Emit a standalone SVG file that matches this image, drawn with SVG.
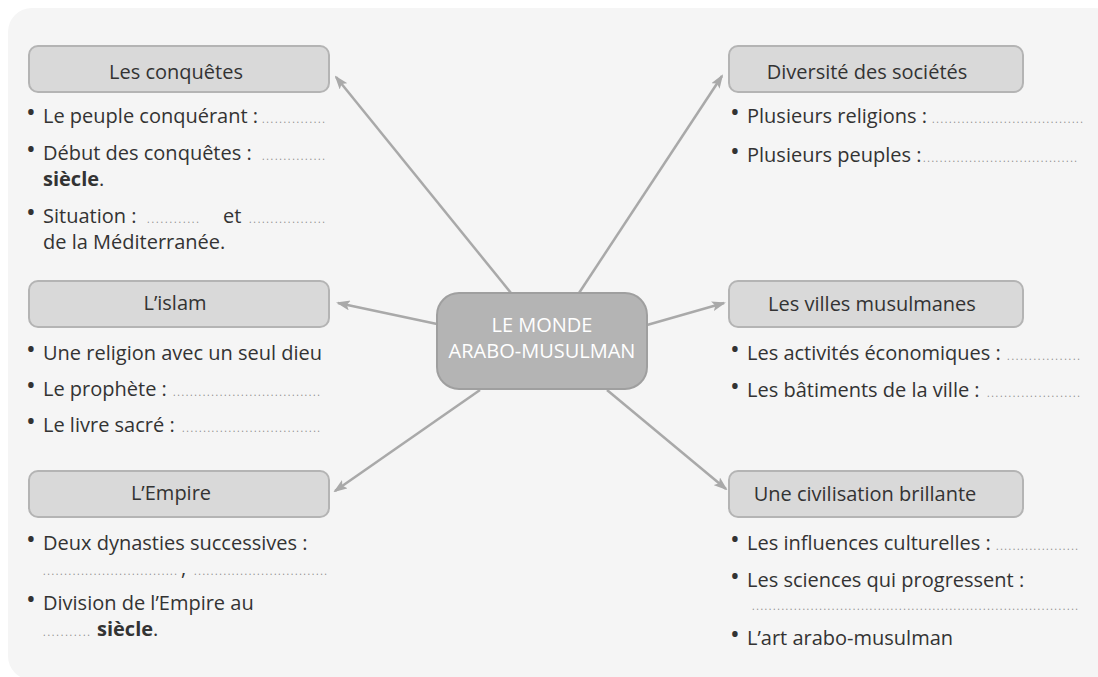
<svg xmlns="http://www.w3.org/2000/svg" width="1098" height="677" viewBox="0 0 1098 677">
<defs>
<marker id="ah" viewBox="0 0 14 10" markerWidth="14" markerHeight="10" refX="12" refY="5" orient="auto" markerUnits="userSpaceOnUse">
<path d="M0,0 L14,5 L0,10 L3,5 Z" fill="#a9a9a9"/>
</marker>
<style>
text{font-family:"Open Sans","Noto Sans","DejaVu Sans",sans-serif;}
.hd{font-size:20px;fill:#333333;text-anchor:middle;}
.tx{font-size:20px;fill:#333333;}
.b{font-weight:bold;}
.bu{font-size:26px;fill:#333333;}
.dt{font-size:10px;fill:#8c8c8c;}
.box{fill:#d9d9d9;stroke:#b4b4b4;stroke-width:2;}
.cbox{fill:#b4b4b4;stroke:#9f9f9f;stroke-width:2;}
.ctr{font-size:20px;fill:#ffffff;text-anchor:middle;}
.ln{stroke:#a9a9a9;stroke-width:2.5;fill:none;marker-end:url(#ah);}
</style>
</defs>
<rect x="0" y="0" width="1098" height="677" fill="#ffffff"/>
<rect x="8" y="8" width="1110" height="672" rx="24" fill="#f5f5f5"/>

<g id="connectors">
<line class="ln" x1="511" y1="293" x2="336" y2="77"/>
<line class="ln" x1="579" y1="293" x2="722" y2="76"/>
<line class="ln" x1="437" y1="324" x2="338" y2="303"/>
<line class="ln" x1="647" y1="325" x2="724" y2="303"/>
<line class="ln" x1="480" y1="390" x2="335" y2="491"/>
<line class="ln" x1="607" y1="390" x2="726" y2="489"/>
</g>

<g id="center">
<rect class="cbox" x="437" y="293" width="210" height="96" rx="22"/>
<text class="ctr" x="542" y="332">LE MONDE</text>
<text class="ctr" x="542" y="358">ARABO-MUSULMAN</text>
</g>

<g id="conquetes">
<rect class="box" x="29" y="46" width="300" height="46" rx="9"/>
<text class="hd" x="176" y="79">Les conquêtes</text>
<text class="bu" x="26" y="121">•</text>
<text class="tx" x="43" y="123">Le peuple conquérant :</text>
<text class="dt" x="262" y="123" textLength="63" lengthAdjust="spacing">...............</text>
<text class="bu" x="26" y="158">•</text>
<text class="tx" x="43" y="160">Début des conquêtes :</text>
<text class="dt" x="262" y="160" textLength="63" lengthAdjust="spacing">...............</text>
<text class="tx b" x="43" y="186">siècle<tspan font-weight="normal">.</tspan></text>
<text class="bu" x="26" y="221">•</text>
<text class="tx" x="43" y="223">Situation :</text>
<text class="dt" x="147" y="223" textLength="52" lengthAdjust="spacing">............</text>
<text class="tx" x="223" y="223">et</text>
<text class="dt" x="249" y="223" textLength="76" lengthAdjust="spacing">..................</text>
<text class="tx" x="43" y="249">de la Méditerranée.</text>
</g>

<g id="islam">
<rect class="box" x="29" y="281" width="300" height="46" rx="9"/>
<text class="hd" x="175" y="310">L’islam</text>
<text class="bu" x="26" y="358">•</text>
<text class="tx" x="43" y="360">Une religion avec un seul dieu</text>
<text class="bu" x="26" y="394">•</text>
<text class="tx" x="43" y="396">Le prophète :</text>
<text class="dt" x="173" y="396" textLength="147" lengthAdjust="spacing">...................................</text>
<text class="bu" x="26" y="430">•</text>
<text class="tx" x="43" y="432">Le livre sacré :</text>
<text class="dt" x="182" y="432" textLength="138" lengthAdjust="spacing">.................................</text>
</g>

<g id="empire">
<rect class="box" x="29" y="471" width="300" height="46" rx="9"/>
<text class="hd" x="171" y="500">L’Empire</text>
<text class="bu" x="26" y="548">•</text>
<text class="tx" x="43" y="550">Deux dynasties successives :</text>
<text class="dt" x="43" y="575" textLength="134" lengthAdjust="spacing">................................</text>
<text class="tx" x="181" y="575">,</text>
<text class="dt" x="194" y="575" textLength="133" lengthAdjust="spacing">................................</text>
<text class="bu" x="26" y="608">•</text>
<text class="tx" x="43" y="610">Division de l’Empire au</text>
<text class="dt" x="43" y="636" textLength="47" lengthAdjust="spacing">...........</text>
<text class="tx b" x="97" y="636">siècle<tspan font-weight="normal">.</tspan></text>
</g>

<g id="diversite">
<rect class="box" x="729" y="46" width="294" height="46" rx="9"/>
<text class="hd" x="867" y="79">Diversité des sociétés</text>
<text class="bu" x="730" y="121">•</text>
<text class="tx" x="747" y="123">Plusieurs religions :</text>
<text class="dt" x="932" y="123" textLength="151" lengthAdjust="spacing">....................................</text>
<text class="bu" x="730" y="160">•</text>
<text class="tx" x="747" y="162">Plusieurs peuples :</text>
<text class="dt" x="923" y="162" textLength="154" lengthAdjust="spacing">.....................................</text>
</g>

<g id="villes">
<rect class="box" x="729" y="281" width="294" height="46" rx="9"/>
<text class="hd" x="872" y="311">Les villes musulmanes</text>
<text class="bu" x="730" y="358">•</text>
<text class="tx" x="747" y="360">Les activités économiques :</text>
<text class="dt" x="1007" y="360" textLength="73" lengthAdjust="spacing">.................</text>
<text class="bu" x="730" y="395">•</text>
<text class="tx" x="747" y="397">Les bâtiments de la ville :</text>
<text class="dt" x="987" y="397" textLength="93" lengthAdjust="spacing">......................</text>
</g>

<g id="civilisation">
<rect class="box" x="729" y="471" width="294" height="46" rx="9"/>
<text class="hd" x="865" y="501">Une civilisation brillante</text>
<text class="bu" x="730" y="548">•</text>
<text class="tx" x="747" y="550">Les influences culturelles :</text>
<text class="dt" x="996" y="550" textLength="82" lengthAdjust="spacing">....................</text>
<text class="bu" x="730" y="585">•</text>
<text class="tx" x="747" y="587">Les sciences qui progressent :</text>
<text class="dt" x="752" y="610" textLength="326" lengthAdjust="spacing">..............................................................................</text>
<text class="bu" x="730" y="643">•</text>
<text class="tx" x="747" y="645">L’art arabo-musulman</text>
</g>
</svg>
